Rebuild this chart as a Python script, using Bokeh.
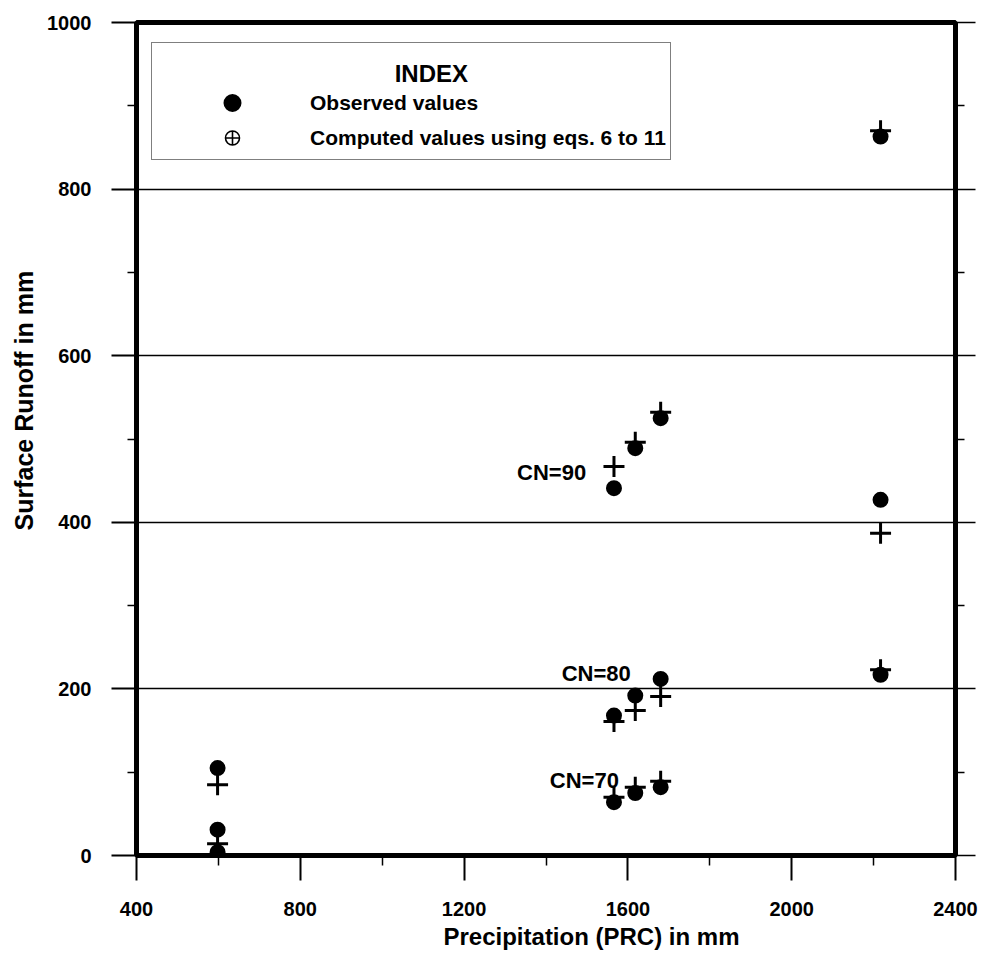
from bokeh.plotting import figure
from bokeh.models import Range1d, FixedTicker, LinearAxis, Legend, LegendItem, Label, Title
from bokeh.core.properties import value
from bokeh.embed import file_html
from bokeh.resources import INLINE

# ---------------- data ----------------
prc = [598, 1566, 1618, 1680, 2217]          # precipitation (mm)
obs_cn90 = [105, 441, 489, 525, 863]
cmp_cn90 = [85, 467, 496, 532, 870]
obs_cn80 = [31, 168, 192, 212, 427]
cmp_cn80 = [14, 161, 174, 191, 387]
obs_cn70 = [4, 64, 75, 82, 217]
cmp_cn70 = [1, 70, 82, 89, 223]

cn_labels = ["CN=90", "CN=80", "CN=70"]
cn_label_x = [1498, 1607, 1578]
cn_label_y = [460, 218, 90]

x_ticks = [400, 800, 1200, 1600, 2000, 2400]
x_tick_labels = ["400", "800", "1200", "1600", "2000", "2400"]
x_minor = [600, 1000, 1400, 1800, 2200]
y_ticks = [0, 200, 400, 600, 800, 1000]
y_tick_labels = ["0", "200", "400", "600", "800", "1000"]
y_minor = [100, 300, 500, 700, 900]
grid_y = [200, 400, 600, 800]

FONT = "Liberation Sans"

p = figure(width=987, height=968, x_range=Range1d(400, 2400), y_range=Range1d(0, 1000),
           output_backend="svg", toolbar_location=None,
           min_border_left=135, min_border_right=32, min_border_top=22, min_border_bottom=113)
p.background_fill_color = "white"
p.border_fill_color = "white"
p.outline_line_color = "black"
p.outline_line_width = 5

p.xgrid.visible = False
p.ygrid.ticker = FixedTicker(ticks=grid_y)
p.ygrid.grid_line_color = "black"
p.ygrid.grid_line_width = 1.3

xa = p.xaxis[0]
xa.ticker = FixedTicker(ticks=x_ticks, minor_ticks=x_minor)
xa.major_label_overrides = {t: l for t, l in zip(x_ticks, x_tick_labels)}
ya = p.yaxis[0]
ya.ticker = FixedTicker(ticks=y_ticks, minor_ticks=y_minor)
ya.major_label_overrides = {t: l for t, l in zip(y_ticks, y_tick_labels)}

for ax in (xa, ya):
    ax.axis_line_width = 5
    ax.axis_line_color = "black"
    ax.major_tick_in = 0
    ax.minor_tick_in = 0
    ax.major_tick_out = 25
    ax.major_tick_line_width = 2
    ax.minor_tick_line_width = 1.5
    ax.major_tick_line_color = "black"
    ax.minor_tick_line_color = "black"
    ax.major_label_text_font = FONT
    ax.major_label_text_font_style = "bold"
    ax.major_label_text_font_size = "20px"
    ax.major_label_text_color = "black"

xa.minor_tick_out = 10
xa.major_label_standoff = 21
ya.minor_tick_out = 9
ya.major_label_standoff = 20

# right-hand axis: ticks only
ra = LinearAxis(ticker=FixedTicker(ticks=y_ticks, minor_ticks=y_minor))
ra.axis_line_width = 5
ra.axis_line_color = "black"
ra.major_tick_in = 0
ra.minor_tick_in = 0
ra.major_tick_out = 20
ra.minor_tick_out = 9
ra.major_tick_line_width = 1.5
ra.minor_tick_line_width = 1.5
ra.major_label_text_font_size = "1px"
ra.major_label_text_color = None
ra.major_label_standoff = 0
p.add_layout(ra, "right")

# axis titles
p.add_layout(Title(text="Precipitation (PRC) in mm", align="left", offset=307, standoff=4,
                   text_font=FONT, text_font_style="bold", text_font_size="24px",
                   text_color="black"), "below")
p.add_layout(Title(text="Surface Runoff in mm", align="left", offset=325, standoff=14,
                   text_font=FONT, text_font_style="bold", text_font_size="25px",
                   text_color="black"), "left")

# data
obs_renderers = []
for ys in (obs_cn90, obs_cn80, obs_cn70):
    obs_renderers.append(p.scatter(prc, ys, marker="circle", size=12,
                                   fill_color="black", line_color="black", line_width=4))
cmp_renderers = []
for ys in (cmp_cn90, cmp_cn80, cmp_cn70):
    cmp_renderers.append(p.scatter(prc, ys, marker="cross", size=21,
                                   line_color="black", line_width=3))

# legend symbol for computed values (circle with cross); zero size on the plot,
# sitting exactly under the computed crosses
leg_cmp = p.scatter(prc, cmp_cn90, marker="circle_cross", size=0,
                    fill_color=None, line_color="black", line_width=1.6)

# CN labels
p.text(x=cn_label_x, y=cn_label_y, text=cn_labels, text_align="right",
       text_baseline="middle", text_font=value(FONT), text_font_style="bold",
       text_font_size="22px", text_color="black")

legend = Legend(items=[LegendItem(label="Observed values", renderers=[obs_renderers[0]]),
                       LegendItem(label="Computed values using eqs. 6 to 11", renderers=[leg_cmp])],
                location=(15, 695), title=" ", title_text_font_size="24px",
                title_standoff=10, padding=4, spacing=0,
                glyph_width=152, glyph_height=35, label_standoff=2,
                label_text_font=FONT, label_text_font_style="bold", label_text_font_size="21px",
                label_text_color="black",
                border_line_color="black", border_line_width=1.2,
                background_fill_alpha=0)
p.add_layout(legend)

p.add_layout(Label(x=1120, y=939, text="INDEX", text_align="center", text_baseline="middle",
                   text_font=FONT, text_font_style="bold", text_font_size="24px",
                   text_color="black"))

open("out.html", "w").write(file_html(p, INLINE))
